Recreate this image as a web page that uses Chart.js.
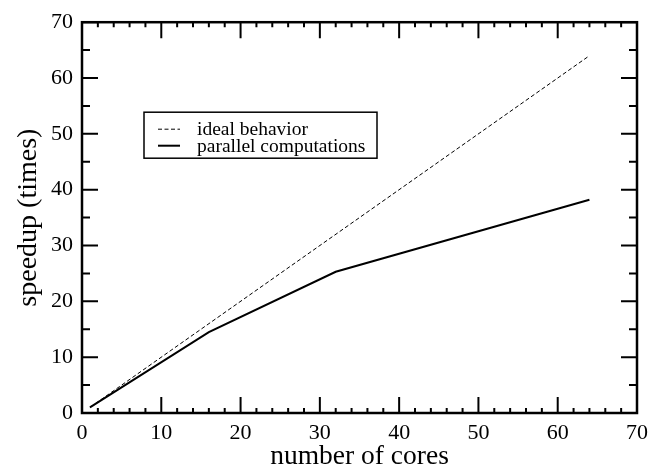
<!DOCTYPE html>
<html>
<head>
<meta charset="utf-8">
<script src="https://cdn.jsdelivr.net/npm/chart.js@4/dist/chart.umd.min.js"></script>
<style>
  html, body { margin: 0; padding: 0; background: #fff; }
  #wrap { width: 655px; height: 471px; }
</style>
</head>
<body>
<div id="wrap"><canvas id="speedupChart" width="655" height="471"></canvas></div>
<script>
const cores = [1, 16, 32, 64];
const idealCores = [1, 64];
const idealSpeedup = [1, 64];
const parallelSpeedup = [1, 14.5, 25.3, 38.2];
const axisMin = 0;
const axisMax = 70;
const seriesLabels = ['ideal behavior', 'parallel computations'];

const serif = "'Liberation Serif', 'Times New Roman', serif";

// frame with inward major/minor ticks on all four sides, plus the boxed legend
const frameAndTicks = {
    id: 'frameAndTicks',
    afterDatasetsDraw(chart) {
        const { ctx, chartArea: a, scales: { x, y } } = chart;
        ctx.save();
        ctx.strokeStyle = '#000';
        ctx.lineWidth = 2;
        ctx.beginPath();
        for (let v = axisMin; v <= axisMax; v += 2) {
            const px = x.getPixelForValue(v);
            const len = v % 10 === 0 ? 16 : 5;
            ctx.moveTo(px, a.bottom); ctx.lineTo(px, a.bottom - len);
            ctx.moveTo(px, a.top); ctx.lineTo(px, a.top + len);
        }
        for (let v = axisMin; v <= axisMax; v += 5) {
            const py = y.getPixelForValue(v);
            const len = v % 10 === 0 ? 16 : 8;
            ctx.moveTo(a.left, py); ctx.lineTo(a.left + len, py);
            ctx.moveTo(a.right, py); ctx.lineTo(a.right - len, py);
        }
        ctx.stroke();
        ctx.lineWidth = 2.5;
        ctx.strokeRect(a.left, a.top, a.width, a.height);

        // legend
        const bx = a.left + 62, by = a.top + 90;
        ctx.lineWidth = 1.5;
        ctx.strokeRect(bx, by, 233, 46);
        ctx.font = '19.5px ' + serif;
        ctx.fillStyle = '#000';
        ctx.textBaseline = 'alphabetic';
        chart.data.datasets.forEach((ds, i) => {
            const ly = by + 17 + i * 16.5;
            ctx.save();
            ctx.lineWidth = ds.borderWidth;
            ctx.setLineDash(ds.borderDash || []);
            ctx.beginPath();
            ctx.moveTo(bx + 14, ly);
            ctx.lineTo(bx + 36, ly);
            ctx.stroke();
            ctx.restore();
            ctx.fillText(ds.label, bx + 53, ly + 6);
        });
        ctx.restore();
    }
};

new Chart(document.getElementById('speedupChart'), {
    type: 'scatter',
    data: {
        datasets: [{
            label: seriesLabels[0],
            data: idealCores.map((c, i) => ({ x: c, y: idealSpeedup[i] })),
            showLine: true,
            borderColor: '#000',
            borderWidth: 1,
            borderDash: [4, 2.5],
            pointRadius: 0
        }, {
            label: seriesLabels[1],
            data: cores.map((c, i) => ({ x: c, y: parallelSpeedup[i] })),
            showLine: true,
            borderColor: '#000',
            borderWidth: 2,
            pointRadius: 0
        }]
    },
    options: {
        responsive: false,
        animation: false,
        layout: { padding: { top: 21, right: 13, left: 0, bottom: 0 } },
        plugins: { legend: { display: false }, tooltip: { enabled: false } },
        scales: {
            x: {
                type: 'linear',
                position: 'bottom',
                min: axisMin,
                max: axisMax,
                grid: { display: false, drawTicks: false },
                border: { display: false },
                ticks: { stepSize: 10, color: '#000', font: { family: serif, size: 22 }, padding: 7 },
                title: { display: true, text: 'number of cores', color: '#000', font: { family: serif, size: 27.5, lineHeight: 1 }, padding: 0 },
                afterFit(scale) { scale.height = 58; }
            },
            y: {
                type: 'linear',
                min: axisMin,
                max: axisMax,
                grid: { display: false, drawTicks: false },
                border: { display: false },
                ticks: { stepSize: 10, color: '#000', font: { family: serif, size: 22 }, padding: 9 },
                title: { display: true, text: 'speedup (times)', color: '#000', font: { family: serif, size: 28, lineHeight: 1 }, padding: { top: 15, bottom: 0 } },
                afterFit(scale) { scale.width = 82; }
            }
        }
    },
    plugins: [frameAndTicks]
});
</script>
</body>
</html>
